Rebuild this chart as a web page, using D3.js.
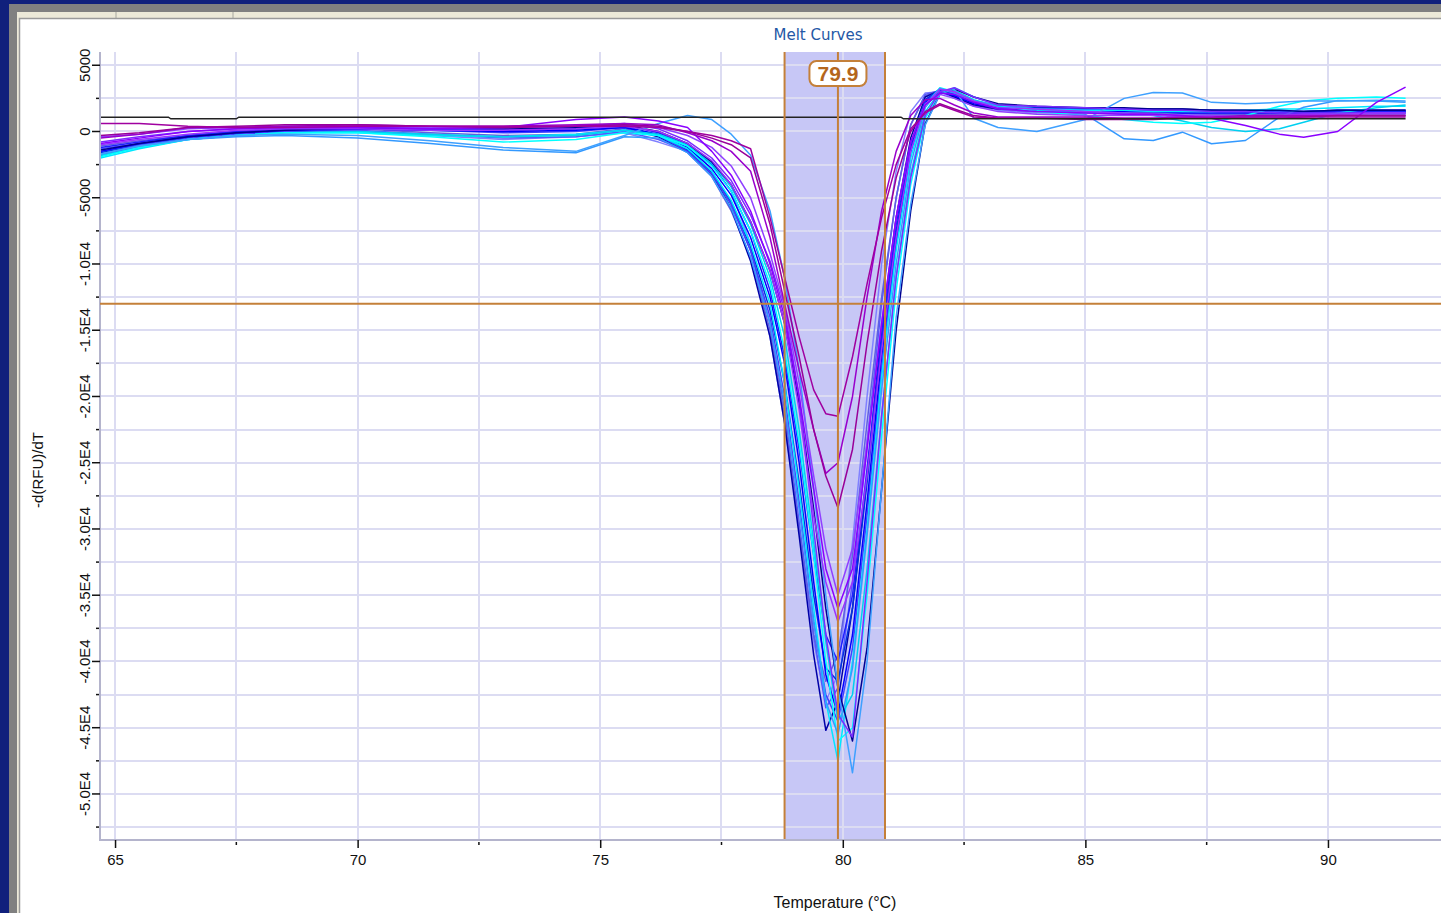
<!DOCTYPE html>
<html>
<head>
<meta charset="utf-8">
<script src="https://cdn.jsdelivr.net/npm/d3@7"></script>
<style>
  html, body { margin: 0; padding: 0; background: #10207c; overflow: hidden; }
  svg { display: block; }
</style>
</head>
<body>
<svg id="chart" width="1441" height="913"></svg>
<script>
// Melt-curve temperatures (°C) shared by every well
const temperatures = [64.7,65.5,66.5,67.5,68.5,70,71.5,73,74.5,75.5,76.2,
  76.8,77.3,77.7,78.1,78.5,78.8,79.1,79.4,79.65,79.9,
  80.2,80.5,80.8,81.1,81.4,81.7,82.0,82.3,82.7,83.2,
  84,85,85.8,86.4,87,87.6,88.3,89,89.5,90.2,91,91.6];

// -d(RFU)/dT per well
const wellA1 = [-1500,-900,-400,-100,100,200,100,0,100,300,-200,
  -1200,-2800,-4800,-8000,-12500,-17500,-25000,-34000,-41000,-44000,
  -38000,-28000,-17000,-8000,-1500,2200,3000,2700,2100,1800,
  1600,1500,1500,1500,1400,1400,1400,1400,1400,1500,1500,1500];
const wellA2 = [-1800,-1100,-500,-200,100,300,200,100,200,400,-400,
  -1500,-3200,-5800,-9800,-15500,-22000,-30500,-39500,-45200,-43000,
  -36000,-26000,-15000,-6500,-500,2600,3100,2600,2000,1700,
  1800,1800,1700,1700,1700,1600,1600,1500,1500,1600,1600,1600];
const wellA3 = [-2000,-1300,-600,-300,-100,-100,-300,-400,-200,100,-300,
  -1300,-3000,-5200,-8500,-13000,-19000,-27000,-36000,-43000,-47500,
  -40000,-30000,-18500,-9000,-2000,2000,3300,3000,2300,1900,
  1700,1600,1600,1500,1500,1500,1600,1700,1700,1800,1900,1900];
const wellA4 = [-1700,-1100,-600,-300,-200,-300,-700,-1200,-1500,-300,600,
  1200,900,-200,-1800,-6000,-11000,-18000,-27000,-35000,-42000,
  -48400,-40000,-27000,-14000,-5500,500,2800,3200,1000,300,
  0,900,2500,2950,2900,2200,2100,2200,2300,2300,2350,2300];
const wellA5 = [600,600,400,300,300,400,400,400,400,400,300,
  0,-300,-700,-1300,-6500,-11000,-15500,-19500,-21300,-21500,
  -17000,-11500,-6500,-2500,200,1400,2000,1600,1100,1000,
  1000,1000,1000,1000,1000,1000,1100,1100,1100,1200,1200,1200];
const wellA6 = [-300,-100,300,400,500,500,400,300,400,500,400,
  0,-500,-1000,-2000,-7000,-12000,-17000,-22500,-26000,-28400,
  -24000,-16000,-9000,-3500,0,1500,2100,1700,1200,1000,
  1000,900,900,900,1000,1000,1000,1000,1100,1100,1100,1100];
const wellA7 = [-500,-200,300,300,400,500,400,400,500,600,500,
  -100,-700,-1500,-3000,-8000,-13000,-18000,-22500,-25800,-25000,
  -20000,-12500,-6000,-1500,1200,2400,2500,2000,1400,1100,
  1100,1100,1000,1000,1100,1100,1200,1200,1200,1200,1200,1200];
const wellA8 = [-900,-500,0,200,300,300,200,300,900,1100,800,
  300,-1500,-3300,-6000,-10000,-14000,-20000,-27000,-33000,-36000,
  -33000,-24000,-14500,-6500,-800,2000,2900,2800,2200,1700,
  1500,1400,1300,1300,1200,1000,450,-200,-430,0,2200,3350];
const wellA9 = [-1000,-600,-200,100,200,200,100,100,200,400,0,
  -900,-2200,-4000,-6800,-10500,-14500,-21000,-29000,-34000,-37000,
  -34000,-26000,-16500,-8000,-1500,2000,3200,3000,2300,1800,
  1700,1500,1400,1300,1200,1200,1100,1200,1300,1300,1400,1400];
const wellA10 = [-1300,-900,-400,-100,0,100,-200,-500,-400,0,-600,
  -1500,-3000,-5500,-9000,-14500,-21000,-29500,-38000,-43500,-42000,
  -34000,-23500,-13000,-5000,500,2800,3100,2600,2000,1700,
  1500,1500,1400,1400,1400,1300,1300,1300,1300,1400,1400,1400];
const wellA11 = [-1600,-1000,-500,-200,0,0,-300,-600,-400,-100,-800,
  -1500,-2500,-4500,-8500,-15500,-22000,-30000,-38500,-43000,-41000,
  -31000,-20000,-10000,-3000,1500,2900,3000,2500,1900,1600,
  1400,1400,1300,1300,1300,1200,1200,1200,1200,1300,1300,1300];
const wellA12 = [-1900,-1200,-600,-300,-100,-100,-400,-800,-600,-100,-300,
  -1100,-2600,-4500,-7500,-11500,-16500,-23500,-32000,-40000,-46000,
  -45000,-35000,-23000,-12000,-4000,1000,2800,3300,2600,2000,
  1500,1200,900,700,600,700,1200,1900,2300,2500,2600,2500];
const wellB1 = [-1400,-900,-400,-100,100,300,300,200,300,500,0,
  -900,-2300,-4000,-6800,-10500,-14500,-20500,-28500,-36000,-42000,
  -46000,-39000,-27000,-15000,-6000,600,2800,3200,2600,2100,
  1900,1800,1800,1700,1700,1600,1600,1600,1500,1600,1600,1600];
const wellB2 = [-1200,-800,-300,0,200,300,200,200,300,500,-100,
  -1000,-2500,-4500,-7500,-12000,-17000,-24000,-32000,-38000,-40000,
  -35000,-25500,-15500,-7000,-1000,2300,3100,2800,2200,1800,
  1700,1600,1600,1500,1500,1500,1500,1400,1400,1500,1500,1500];
const wellB3 = [-1700,-1100,-600,-400,-300,-500,-900,-1400,-1600,-400,-500,
  -1600,-3400,-5800,-9500,-14500,-20500,-28500,-37000,-43000,-45500,
  -40500,-30500,-19500,-10000,-2500,1800,3200,2900,2300,2000,
  1700,1300,-550,-680,-50,-930,-680,1080,1830,2340,2300,2200];
const wellB4 = [-1800,-1200,-600,-300,-100,0,-200,-400,-300,100,-200,
  -1000,-2400,-4200,-7000,-11000,-15500,-22500,-31000,-38500,-44500,
  -42500,-33000,-21500,-11000,-3200,1500,3000,3100,2400,1900,
  1600,1500,1400,1200,800,300,0,200,700,1400,1800,2000];
const wellB5 = [-1500,-1000,-500,-200,0,200,100,-100,0,300,-300,
  -1500,-3200,-5500,-9000,-14000,-20000,-28000,-37000,-42500,-44500,
  -39000,-29000,-18000,-8500,-1500,2100,3100,2800,2200,1800,
  1700,1700,1600,1600,1500,1500,1500,1500,1500,1600,1600,1600];
const wellB6 = [-800,-400,0,200,300,400,300,300,400,600,200,
  -700,-2000,-3700,-6300,-9800,-13500,-20000,-30000,-38000,-44000,
  -45700,-34000,-21500,-11000,-3500,1200,3000,3300,2600,2000,
  1900,1800,1700,1600,1600,1500,1500,1400,1400,1400,1400,1400];
const wellB7 = [-1600,-1000,-500,-200,0,200,200,100,200,400,-300,
  -1400,-3100,-5300,-8700,-13500,-19000,-26500,-35000,-40500,-41500,
  -36000,-26500,-16000,-7500,-1200,2400,3200,2800,2200,1900,
  1800,1700,1700,1600,1600,1600,1500,1500,1500,1500,1500,1500];
const wellB8 = [-1100,-700,-300,0,100,200,-100,-300,-200,200,-400,
  -1600,-3400,-6000,-9500,-15000,-21500,-30000,-38000,-41500,-39500,
  -32000,-22000,-12500,-5000,500,2700,3100,2600,2000,1700,
  1500,1500,1400,1400,1400,1300,1300,1300,1300,1400,1400,1400];
const wellB9 = [-400,-200,200,300,400,400,300,300,400,500,300,
  -300,-1200,-2600,-5000,-9200,-13200,-19000,-26000,-31500,-35000,
  -31500,-23500,-14500,-6500,-800,2100,2800,2500,1900,1500,
  1300,1200,1200,1200,1100,1100,1100,1100,1200,1200,1200,1200];

const wellSeries = [wellA11, wellA10, wellB8, wellA2, wellB7, wellB5, wellA1, wellB2,
  wellA3, wellB4, wellA12, wellB3, wellB1, wellA4, wellB6, wellA9, wellB9, wellA8,
  wellA7, wellA6, wellA5];
const wellColors = ["#8080ff", "#5555ff", "#6060e0", "#0000a8", "#0033dd", "#4040ff", "#0000ff", "#1e1eff",
  "#00e8ff", "#00d0f0", "#00ffff", "#3399ff", "#000090", "#3ea0ff", "#7a2cff", "#9933ff", "#9040ff", "#8a00ff",
  "#9900cc", "#990099", "#a000a0"];

// Black threshold trace
const thresholdTemps = [64.7, 66.1, 66.15, 67.5, 67.55, 81.2, 81.25, 91.6];
const thresholdValues = [1080, 1080, 960, 960, 1080, 1080, 960, 960];

// Peak cursor, its band and the horizontal threshold
const peakTemp = 79.9;
const bandRange = [78.8, 80.87];
const thresholdLevel = -13000;

// Axis ticks
const xMajorTicks = [65, 70, 75, 80, 85, 90];
const xMinorTicks = [67.5, 72.5, 77.5, 82.5, 87.5, 92.5];
const xGridValues = [65, 67.5, 70, 72.5, 75, 77.5, 80, 82.5, 85, 87.5, 90];
const yMajorTicks = [5000, 0, -5000, -10000, -15000, -20000, -25000, -30000, -35000, -40000, -45000, -50000];
const yTickLabels = ["5000", "0", "-5000", "-1.0E4", "-1.5E4", "-2.0E4", "-2.5E4", "-3.0E4", "-3.5E4", "-4.0E4", "-4.5E4", "-5.0E4"];
const yMinorTicks = [2500, -2500, -7500, -12500, -17500, -22500, -27500, -32500, -37500, -42500, -47500, -52500];

const svg = d3.select("#chart");
const W = 1441, H = 913;

// ---- window frame ----
svg.append("rect").attr("width", W).attr("height", H).attr("fill", "#10207c");
svg.append("rect").attr("x", 9).attr("y", 4).attr("width", W - 9).attr("height", H - 4).attr("fill", "#808080");
svg.append("rect").attr("x", 17).attr("y", 12).attr("width", W - 17).attr("height", H - 12).attr("fill", "#ece9d8");
[116, 233].forEach(sx => svg.append("line").attr("x1", sx).attr("x2", sx).attr("y1", 12).attr("y2", 18)
  .attr("stroke", "#a8a8a0").attr("stroke-width", 1));
svg.append("rect").attr("x", 19.5).attr("y", 18.5).attr("width", W).attr("height", H)
  .attr("fill", "#ffffff").attr("stroke", "#9a9a9a").attr("stroke-width", 1.5);

// ---- plot area ----
const plot = { left: 100, right: 1441, top: 52, bottom: 839 };
const x = d3.scaleLinear().domain([64.69, 92.33]).range([plot.left, plot.right]);
const y = d3.scaleLinear().domain([-53400, 6000]).range([plot.bottom, plot.top]);

svg.append("defs").append("clipPath").attr("id", "plotClip")
  .append("rect").attr("x", plot.left).attr("y", plot.top)
  .attr("width", plot.right - plot.left).attr("height", plot.bottom - plot.top);

// cursor band
svg.append("rect")
  .attr("x", x(bandRange[0])).attr("y", plot.top)
  .attr("width", x(bandRange[1]) - x(bandRange[0])).attr("height", plot.bottom - plot.top)
  .attr("fill", "#c7c7f6");

// grid
const grid = svg.append("g").attr("shape-rendering", "crispEdges");
grid.selectAll("line.gx").data(xGridValues).join("line")
  .attr("x1", d => Math.round(x(d))).attr("x2", d => Math.round(x(d)))
  .attr("y1", plot.top).attr("y2", plot.bottom)
  .attr("stroke", "#dcdcf2").attr("stroke-width", 2);
grid.selectAll("line.gy").data(yMajorTicks.concat(yMinorTicks)).join("line")
  .attr("x1", plot.left).attr("x2", plot.right)
  .attr("y1", d => Math.round(y(d))).attr("y2", d => Math.round(y(d)))
  .attr("stroke", "#dcdcf2").attr("stroke-width", 2);

// melt curves
const line = d3.line().x((d, i) => x(temperatures[i])).y(d => y(d));
const curves = svg.append("g").attr("clip-path", "url(#plotClip)");
curves.selectAll("path").data(wellSeries).join("path")
  .attr("d", d => line(d))
  .attr("fill", "none")
  .attr("stroke", (d, i) => wellColors[i])
  .attr("stroke-width", 1.5)
  .attr("stroke-linejoin", "round");

// threshold trace
const tLine = d3.line().x((d, i) => x(thresholdTemps[i])).y(d => y(d));
svg.append("path").attr("d", tLine(thresholdValues))
  .attr("fill", "none").attr("stroke", "#222222").attr("stroke-width", 1.5);

// axes lines
svg.append("line").attr("x1", plot.left).attr("x2", plot.left).attr("y1", plot.top).attr("y2", plot.bottom + 1)
  .attr("stroke", "#b4b4cc").attr("stroke-width", 2);
svg.append("line").attr("x1", plot.left - 1).attr("x2", plot.right).attr("y1", plot.bottom + 1).attr("y2", plot.bottom + 1)
  .attr("stroke", "#b4b4cc").attr("stroke-width", 2);

// orange cursor lines and threshold
const orange = "#c4803a";
svg.append("line").attr("x1", plot.left).attr("x2", plot.right)
  .attr("y1", y(thresholdLevel)).attr("y2", y(thresholdLevel))
  .attr("stroke", orange).attr("stroke-width", 2);
[bandRange[0], peakTemp, bandRange[1]].forEach(t => {
  svg.append("line").attr("x1", x(t)).attr("x2", x(t)).attr("y1", plot.top).attr("y2", plot.bottom)
    .attr("stroke", orange).attr("stroke-width", 2);
});

// peak label
const lblX = x(peakTemp);
svg.append("rect").attr("x", lblX - 28.5).attr("y", 61).attr("width", 57).attr("height", 25).attr("rx", 7)
  .attr("fill", "#ffffff").attr("stroke", orange).attr("stroke-width", 2);
svg.append("text").attr("x", lblX).attr("y", 81).attr("text-anchor", "middle")
  .attr("font-family", "Liberation Sans, Arial, sans-serif").attr("font-weight", "bold")
  .attr("font-size", 21).attr("fill", "#b4661c").text(peakTemp.toFixed(1));

// x axis ticks
const xAxis = svg.append("g").attr("transform", `translate(0,${plot.bottom + 1})`);
xAxis.call(d3.axisBottom(x).tickValues(xMajorTicks).tickSize(8).tickPadding(6).tickFormat(d3.format("d")));
xAxis.select(".domain").remove();
xAxis.selectAll(".tick line").attr("stroke", "#111").attr("stroke-width", 1.5);
xAxis.selectAll(".tick text").attr("font-family", "Liberation Sans, Arial, sans-serif").attr("font-size", 15).attr("fill", "#111");
svg.append("g").selectAll("line").data(xMinorTicks.filter(d => x(d) < plot.right)).join("line")
  .attr("x1", d => x(d)).attr("x2", d => x(d)).attr("y1", plot.bottom + 3).attr("y2", plot.bottom + 6)
  .attr("stroke", "#111").attr("stroke-width", 1.5);

// y axis ticks
const yAxis = svg.append("g").attr("transform", `translate(${plot.left},0)`);
yAxis.selectAll("line.maj").data(yMajorTicks).join("line")
  .attr("x1", -8).attr("x2", 0).attr("y1", d => y(d)).attr("y2", d => y(d))
  .attr("stroke", "#111").attr("stroke-width", 1.5);
yAxis.selectAll("line.min").data(yMinorTicks).join("line")
  .attr("x1", -4).attr("x2", -1).attr("y1", d => y(d)).attr("y2", d => y(d))
  .attr("stroke", "#111").attr("stroke-width", 1.5);
yAxis.selectAll("text").data(yMajorTicks).join("text")
  .attr("transform", d => `translate(-10,${y(d)}) rotate(-90)`)
  .attr("text-anchor", "middle")
  .attr("font-family", "Liberation Sans, Arial, sans-serif").attr("font-size", 15).attr("fill", "#111")
  .text((d, i) => yTickLabels[i]);

// titles
svg.append("text").attr("x", 818).attr("y", 40).attr("text-anchor", "middle")
  .attr("font-family", "DejaVu Sans, Verdana, sans-serif").attr("font-size", 15).attr("fill", "#2458a6")
  .text("Melt Curves");
svg.append("text").attr("x", 835).attr("y", 908).attr("text-anchor", "middle")
  .attr("font-family", "Liberation Sans, Arial, sans-serif").attr("font-size", 16).attr("fill", "#111")
  .text("Temperature (°C)");
svg.append("text").attr("transform", "translate(43,470) rotate(-90)").attr("text-anchor", "middle")
  .attr("font-family", "Liberation Sans, Arial, sans-serif").attr("font-size", 15).attr("fill", "#111")
  .text("-d(RFU)/dT");
</script>
</body>
</html>
